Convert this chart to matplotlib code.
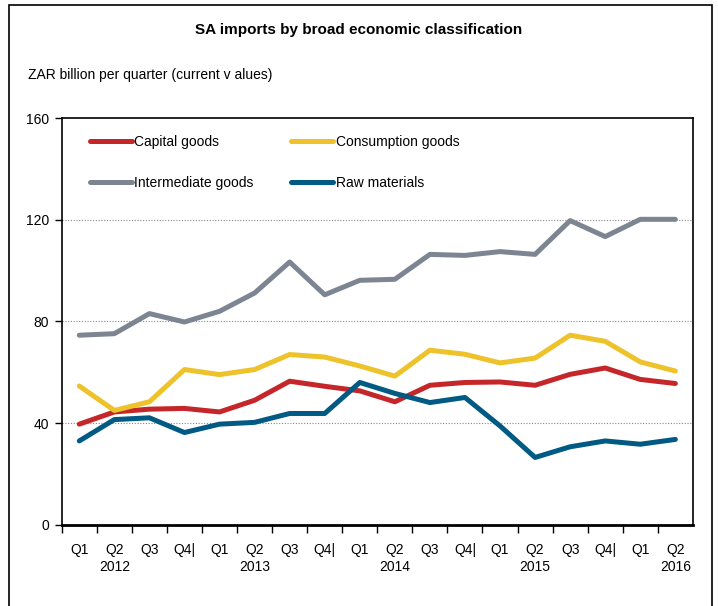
import matplotlib
matplotlib.use("Agg")
import matplotlib.pyplot as plt
from matplotlib.patches import Rectangle

plt.rcParams['font.family'] = ['Liberation Sans', 'DejaVu Sans']

# Data
quarters = ["Q1", "Q2", "Q3", "Q4|", "Q1", "Q2", "Q3", "Q4|", "Q1", "Q2", "Q3", "Q4|",
            "Q1", "Q2", "Q3", "Q4|", "Q1", "Q2"]
years = ["", "2012", "", "", "", "2013", "", "", "", "2014", "", "",
         "", "2015", "", "", "", "2016"]

capital = [39.6, 44.4, 45.5, 45.8, 44.4, 49.0, 56.5, 54.5, 52.7, 48.4, 54.9, 56.0,
           56.2, 54.9, 59.2, 61.7, 57.2, 55.6]
consumption = [54.6, 45.0, 48.4, 61.1, 59.1, 61.1, 67.0, 66.0, 62.5, 58.5, 68.7, 67.1,
               63.7, 65.6, 74.6, 72.2, 64.1, 60.5]
intermediate = [74.6, 75.2, 83.1, 79.8, 84.0, 91.2, 103.4, 90.5, 96.2, 96.6, 106.4, 106.0,
                107.5, 106.4, 119.7, 113.4, 120.2, 120.2]
raw = [33.0, 41.4, 42.1, 36.3, 39.6, 40.3, 43.8, 43.8, 56.0, 51.7, 48.1, 50.1,
       38.9, 26.5, 30.7, 33.0, 31.7, 33.6]

fig = plt.figure(figsize=(7.18, 6.06), dpi=100)
ax = fig.add_axes([0.086, 0.134, 0.879, 0.671])

x = list(range(len(quarters)))
l1, = ax.plot(x, capital, color="#C4262A", lw=3.6, solid_capstyle="round", label="Capital goods")
l2, = ax.plot(x, consumption, color="#EEC22A", lw=3.6, solid_capstyle="round", label="Consumption goods")
l3, = ax.plot(x, intermediate, color="#7C8591", lw=3.6, solid_capstyle="round", label="Intermediate goods")
l4, = ax.plot(x, raw, color="#005A83", lw=3.6, solid_capstyle="round", label="Raw materials")

ax.set_xlim(-0.5, len(quarters) - 0.5)
ax.set_ylim(0, 160)
ax.set_yticks([0, 40, 80, 120, 160])
for g in [40, 80, 120]:
    ax.axhline(g, color="#888888", lw=0.8, ls=(0, (1, 1.5)), zorder=0)

labels = [q + ("\n" + y if y else "") for q, y in zip(quarters, years)]
ax.set_xticks(x)
ax.set_xticklabels(labels, fontsize=10, linespacing=1.3)
ax.tick_params(axis="x", which="major", length=0, pad=13)
ax.set_xticks([i - 0.5 for i in range(len(quarters))], minor=True)
ax.tick_params(axis="x", which="minor", length=6, width=1, direction="out")
ax.tick_params(axis="y", length=5, width=1, direction="out", labelsize=10, pad=4)

for s in ax.spines.values():
    s.set_linewidth(1.2)
ax.spines["bottom"].set_linewidth(2)

leg = ax.legend([l1, l3, l2, l4], ["Capital goods", "Intermediate goods",
                                   "Consumption goods", "Raw materials"],
                ncol=2, loc="upper left", frameon=False, fontsize=10, handlelength=3.0,
                handletextpad=0.2, columnspacing=2.7, labelspacing=1.95,
                bbox_to_anchor=(0.025, 0.99))

fig.text(0.5, 1 - 30 / 606, "SA imports by broad economic classification", ha="center",
         va="center", fontsize=11, fontweight="bold")
fig.text(0.039, 1 - 75 / 606, "ZAR billion per quarter (current v alues)", ha="left",
         va="center", fontsize=10)

fig.patches.append(Rectangle((9 / 718, -0.02), (712 - 9) / 718, 1 - 5 / 606 + 0.02,
                             transform=fig.transFigure, fill=False, lw=1.2, ec="black"))

fig.savefig("out.png", dpi=100)
